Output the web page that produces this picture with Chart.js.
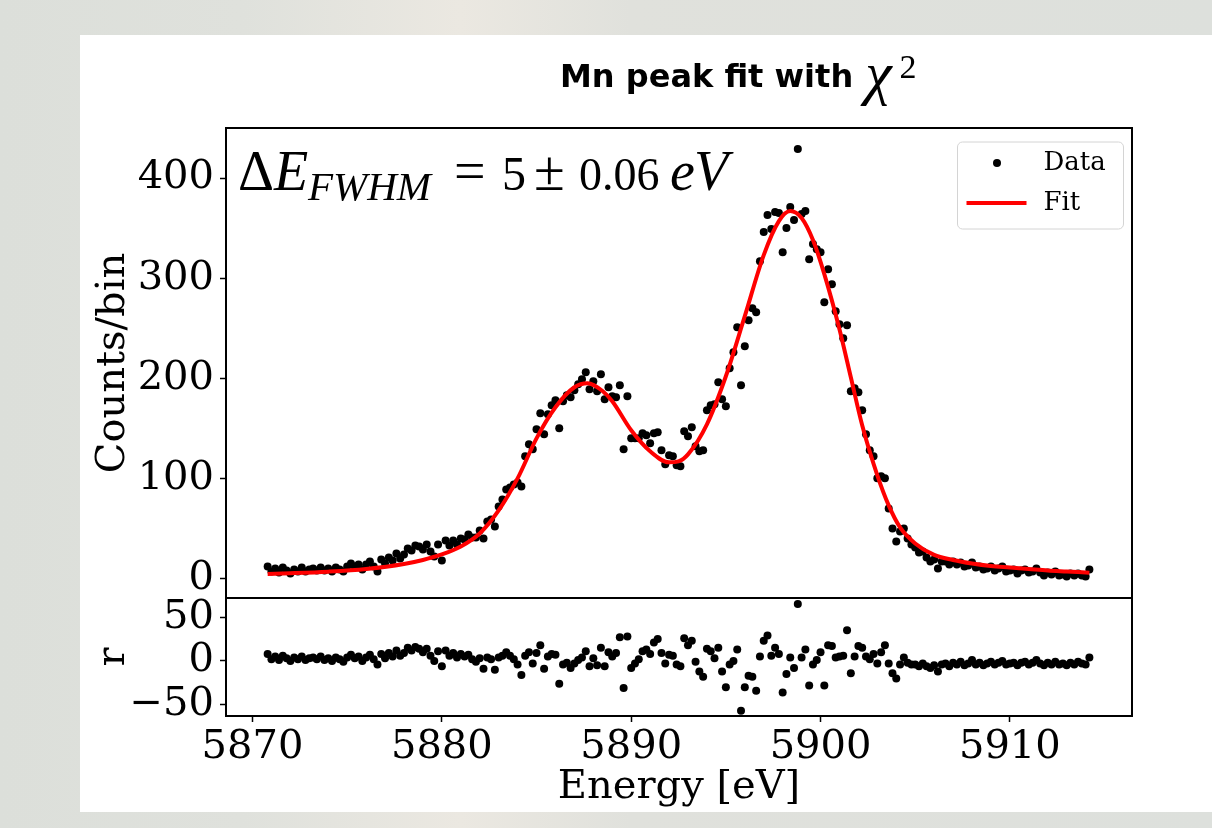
<!DOCTYPE html>
<html>
<head>
<meta charset="utf-8">
<title>Mn peak fit</title>
<script src="https://cdn.jsdelivr.net/npm/chart.js@4.4.0/dist/chart.umd.min.js"></script>
<style>
  html, body { margin: 0; padding: 0; }
  body {
    width: 1212px; height: 828px; overflow: hidden; position: relative;
    background: linear-gradient(90deg, #dcdfda 0%, #dfe1dc 20%, #ebe8e1 38%, #e0e1dc 52%, #dde0dc 100%);
  }
  #panel { position: absolute; left: 80px; top: 35px; width: 1132px; height: 777px; background: #fff; }
  #mainChart { position: absolute; left: 80px; top: 35px; }
  #resChart { position: absolute; left: 80px; top: 568px; }
</style>
</head>
<body>
<div id="panel"></div>
<canvas id="mainChart" width="1132" height="593"></canvas>
<canvas id="resChart" width="1132" height="244"></canvas>
<script>
const energies = [
  5870.8,
  5871.0, 5871.2, 5871.4, 5871.6, 5871.8,
  5872.0, 5872.2, 5872.4, 5872.6, 5872.8,
  5873.0, 5873.2, 5873.4, 5873.6, 5873.8,
  5874.0, 5874.2, 5874.4, 5874.6, 5874.8,
  5875.0, 5875.2, 5875.4, 5875.6, 5875.8,
  5876.0, 5876.2, 5876.4, 5876.6, 5876.8,
  5877.0, 5877.2, 5877.4, 5877.6, 5877.8,
  5878.0, 5878.2, 5878.4, 5878.6, 5878.8,
  5879.0, 5879.2, 5879.4, 5879.6, 5879.8,
  5880.0, 5880.2, 5880.4, 5880.6, 5880.8,
  5881.0, 5881.2, 5881.4, 5881.6, 5881.8,
  5882.0, 5882.2, 5882.4, 5882.6, 5882.8,
  5883.0, 5883.2, 5883.4, 5883.6, 5883.8,
  5884.0, 5884.2, 5884.4, 5884.6, 5884.8,
  5885.0, 5885.2, 5885.4, 5885.6, 5885.8,
  5886.0, 5886.2, 5886.4, 5886.6, 5886.8,
  5887.0, 5887.2, 5887.4, 5887.6, 5887.8,
  5888.0, 5888.2, 5888.4, 5888.6, 5888.8,
  5889.0, 5889.2, 5889.4, 5889.6, 5889.8,
  5890.0, 5890.2, 5890.4, 5890.6, 5890.8,
  5891.0, 5891.2, 5891.4, 5891.6, 5891.8,
  5892.0, 5892.2, 5892.4, 5892.6, 5892.8,
  5893.0, 5893.2, 5893.4, 5893.6, 5893.8,
  5894.0, 5894.2, 5894.4, 5894.6, 5894.8,
  5895.0, 5895.2, 5895.4, 5895.6, 5895.8,
  5896.0, 5896.2, 5896.4, 5896.6, 5896.8,
  5897.0, 5897.2, 5897.4, 5897.6, 5897.8,
  5898.0, 5898.2, 5898.4, 5898.6, 5898.8,
  5899.0, 5899.2, 5899.4, 5899.6, 5899.8,
  5900.0, 5900.2, 5900.4, 5900.6, 5900.8,
  5901.0, 5901.2, 5901.4, 5901.6, 5901.8,
  5902.0, 5902.2, 5902.4, 5902.6, 5902.8,
  5903.0, 5903.2, 5903.4, 5903.6, 5903.8,
  5904.0, 5904.2, 5904.4, 5904.6, 5904.8,
  5905.0, 5905.2, 5905.4, 5905.6, 5905.8,
  5906.0, 5906.2, 5906.4, 5906.6, 5906.8,
  5907.0, 5907.2, 5907.4, 5907.6, 5907.8,
  5908.0, 5908.2, 5908.4, 5908.6, 5908.8,
  5909.0, 5909.2, 5909.4, 5909.6, 5909.8,
  5910.0, 5910.2, 5910.4, 5910.6, 5910.8,
  5911.0, 5911.2, 5911.4, 5911.6, 5911.8,
  5912.0, 5912.2, 5912.4, 5912.6, 5912.8,
  5913.0, 5913.2, 5913.4, 5913.6, 5913.8,
  5914.0, 5914.2
];

const counts = [
  12,
  7, 10, 6, 11, 8,
  5, 9, 7, 11, 7,
  9, 10, 8, 11, 8,
  10, 7, 11, 9, 7,
  12, 15, 12, 14, 9,
  14, 17, 12, 7, 19,
  15, 21, 18, 25, 20,
  24, 30, 28, 33, 32,
  29, 34, 27, 22, 34,
  18, 38, 33, 38, 34,
  40, 39, 44, 41, 41,
  48, 40, 57, 59, 52,
  72, 79, 89, 91, 94,
  96, 92, 122, 134, 129,
  149, 165, 144, 164, 173,
  178, 150, 177, 183, 181,
  188, 194, 199, 206, 189,
  197, 187, 204, 179, 191,
  182, 181, 193, 129, 182,
  140, 140, 140, 145, 143,
  135, 145, 146, 128, 114,
  123, 122, 113, 112, 147,
  142, 151, 132, 127, 128,
  168, 173, 174, 196, 179,
  172, 210, 226, 251, 193,
  232, 258, 270, 266, 317,
  346, 363, 349, 366, 365,
  326, 350, 371, 358, 429,
  364, 367, 319, 334, 329,
  326, 276, 309, 294, 267,
  254, 240, 253, 187, 190,
  186, 168, 144, 128, 122,
  100, 102, 100, 70, 50,
  37, 47, 50, 40, 34,
  31, 26, 27, 21, 17,
  19, 10, 17, 17, 14,
  17, 14, 16, 12, 13,
  16, 11, 12, 9, 10,
  12, 8, 10, 12, 7,
  8, 9, 5, 8, 9,
  6, 7, 10, 6, 3,
  6, 4, 7, 3, 4,
  2, 5, 3, 5, 3,
  2, 9
];

const residuals = [
  8,
  2, 5, 1, 6, 3,
  0, 4, 2, 5, 1,
  3, 4, 2, 5, 1,
  3, 0, 4, 2, -1,
  4, 7, 3, 5, 0,
  4, 7, 2, -4, 8,
  3, 9, 5, 12, 6,
  9, 15, 12, 16, 14,
  10, 14, 6, 0, 11,
  -6, 12, 6, 9, 4,
  8, 5, 7, 2, -1,
  3, -9, 4, 2, -10,
  4, 6, 10, 6, 2,
  -4, -16, 6, 10, -3,
  9, 18, -9, 5, 8,
  7, -26, -4, -2, -8,
  -3, 1, 4, 11, -6,
  3, -5, 15, -6, 10,
  5, 9, 27, -31, 28,
  -8, -3, 2, 11, 13,
  8, 21, 25, 9, -3,
  7, 6, -4, -6, 26,
  18, 23, -1, -12, -18,
  14, 11, 3, 15, -12,
  -30, -4, 0, 13, -57,
  -30, -17, -18, -34, 5,
  23, 29, 6, 15, 8,
  -36, -15, 4, -8, 65,
  4, 13, -28, -4, 1,
  10, -28, 18, 17, 4,
  5, 6, 35, -14, 5,
  17, 15, 5, 2, 8,
  -3, 10, 18, -3, -14,
  -20, -4, 4, -2, -4,
  -4, -6, -3, -6, -8,
  -5, -12, -4, -3, -6,
  -2, -4, -1, -5, -3,
  1, -4, -2, -5, -3,
  -1, -4, -2, 0, -4,
  -3, -2, -5, -2, -1,
  -4, -2, 1, -3, -5,
  -2, -4, -1, -4, -3,
  -5, -2, -4, -1, -3,
  -4, 4
];

// fitted model curve, sampled off the red line
const fitEnergies = [5870.8, 5872, 5874, 5876, 5878, 5879, 5880, 5881, 5882, 5883, 5884, 5885, 5886,
  5887, 5887.7, 5888.5, 5889, 5890, 5891, 5892, 5892.5, 5893, 5894, 5895, 5896, 5897, 5897.8,
  5898.4, 5899, 5899.6, 5900.2, 5901, 5901.6, 5902.2, 5903, 5903.6, 5904.2, 5905, 5906, 5907,
  5908, 5909, 5910, 5911, 5912, 5913, 5914.2];
const fitCounts = [4.5, 5.2, 6.8, 9.5, 14.5, 18.5, 24, 32, 45, 68, 100, 140, 171,
  191, 195, 187, 177, 148, 127, 116, 117, 124, 154, 202, 262, 323, 357,
  367, 360, 338, 304, 249, 201, 153, 103, 73, 51, 35, 23.5, 18.5,
  15, 12.5, 11, 9.5, 8, 7, 5.8];

const energyTicks = [5870, 5880, 5890, 5900, 5910];
const countTicks = [0, 100, 200, 300, 400];
const residualTicks = [-50, 0, 50];

const serif = "'DejaVu Serif', serif";
const axisFont = { family: serif, size: 40 };

const framePlugin = {
  id: "frame",
  afterDraw(chart) {
    const { ctx, chartArea: a } = chart;
    ctx.save();
    ctx.strokeStyle = "#000";
    ctx.lineWidth = 2;
    ctx.strokeRect(a.left, a.top, a.right - a.left, a.bottom - a.top);
    ctx.restore();
  }
};

// title, ΔE annotation and the boxed legend
const headerPlugin = {
  id: "header",
  afterDraw(chart) {
    const { ctx, chartArea: a } = chart;
    ctx.save();
    ctx.fillStyle = "#000";
    ctx.textBaseline = "alphabetic";
    ctx.textAlign = "left";

    // title
    ctx.font = "bold 32px 'DejaVu Sans'";
    const t1 = "Mn peak fit with";
    ctx.fillText(t1, 480, 52);
    const w1 = ctx.measureText(t1).width;
    ctx.font = "italic 60px 'Liberation Serif'";
    const chiX = 480 + w1 + 12;
    ctx.fillText("χ", chiX, 58);
    const w2 = ctx.measureText("χ").width;
    ctx.font = "34px 'Liberation Serif'";
    ctx.fillText("2", chiX + w2 + 8, 43);

    // annotation, x positions relative to the axes' left edge
    const base = a.top + 62;
    const pieces = [
      ["Δ", 12, 56, false, 0],
      ["E", 48, 56, true, 0],
      ["FWHM", 82, 41, true, 10],
      ["=", 228, 56, false, 0],
      ["5", 276, 48, false, 0],
      ["±", 308, 56, false, 0],
      ["0.06", 353, 46, false, 0],
      ["e", 444, 56, true, 0],
      ["V", 468, 56, true, 0]
    ];
    pieces.forEach(([txt, dx, size, ital, dy]) => {
      ctx.font = (ital ? "italic " : "") + size + "px 'Liberation Serif'";
      ctx.fillText(txt, a.left + dx, base + dy);
    });

    // legend
    const w = 166, h = 87;
    const x = a.right - 8.5 - w, y = a.top + 14;
    ctx.beginPath();
    ctx.roundRect(x, y, w, h, 5);
    ctx.fillStyle = "rgba(255,255,255,0.8)";
    ctx.fill();
    ctx.strokeStyle = "#d4d4d4";
    ctx.lineWidth = 1;
    ctx.stroke();
    ctx.fillStyle = "#000";
    ctx.beginPath();
    ctx.arc(x + 39.5, y + 21, 4, 0, Math.PI * 2);
    ctx.fill();
    ctx.strokeStyle = "#ff0000";
    ctx.lineWidth = 4;
    ctx.beginPath();
    ctx.moveTo(x + 9, y + 61);
    ctx.lineTo(x + 69, y + 61);
    ctx.stroke();
    ctx.fillStyle = "#000";
    ctx.font = "26px 'DejaVu Serif'";
    ctx.textBaseline = "middle";
    ctx.fillText("Data", x + 86, y + 21);
    ctx.fillText("Fit", x + 86, y + 61);
    ctx.restore();
  }
};

const yAxisBase = {
  grid: { drawOnChartArea: false, drawTicks: true, tickLength: 6, tickWidth: 1.5, tickColor: "#000" },
  border: { display: true, color: "#000", width: 2 },
  ticks: { font: axisFont, color: "#000", padding: 6 },
  afterFit(s) { s.width = 146; }
};

new Chart(document.getElementById("mainChart"), {
  type: "scatter",
  data: {
    datasets: [
      {
        label: "Data",
        data: energies.map((e, i) => ({ x: e, y: counts[i] })),
        pointRadius: 4,
        pointBackgroundColor: "#000",
        pointBorderWidth: 0,
        showLine: false,
        order: 1
      },
      {
        label: "Fit",
        type: "line",
        data: fitEnergies.map((e, i) => ({ x: e, y: fitCounts[i] })),
        borderColor: "#ff0000",
        borderWidth: 4,
        pointRadius: 0,
        cubicInterpolationMode: "monotone",
        fill: false,
        order: 0
      }
    ]
  },
  options: {
    responsive: false,
    animation: false,
    layout: { padding: { left: 0, right: 80, top: 93, bottom: 30 } },
    plugins: { legend: { display: false }, tooltip: { enabled: false } },
    scales: {
      x: { type: "linear", min: 5868.6, max: 5916.45, display: false },
      y: {
        ...yAxisBase,
        min: -19.5,
        max: 450,
        afterBuildTicks(s) { s.ticks = countTicks.map(v => ({ value: v })); },
        title: { display: true, text: "Counts/bin", font: axisFont, color: "#000", padding: { top: 10, bottom: 0 } }
      }
    }
  },
  plugins: [framePlugin, headerPlugin]
});

new Chart(document.getElementById("resChart"), {
  type: "scatter",
  data: {
    datasets: [{
      label: "r",
      data: energies.map((e, i) => ({ x: e, y: residuals[i] })),
      pointRadius: 4,
      pointBackgroundColor: "#000",
      pointBorderWidth: 0
    }]
  },
  options: {
    responsive: false,
    animation: false,
    layout: { padding: { left: 0, right: 80, top: 30, bottom: 0 } },
    plugins: { legend: { display: false }, tooltip: { enabled: false } },
    scales: {
      x: {
        type: "linear",
        min: 5868.6,
        max: 5916.45,
        afterBuildTicks(s) { s.ticks = energyTicks.map(v => ({ value: v })); },
        afterFit(s) { s.height = 96; },
        grid: { drawOnChartArea: false, drawTicks: true, tickLength: 6, tickWidth: 1.5, tickColor: "#000" },
        border: { display: true, color: "#000", width: 2 },
        ticks: { font: axisFont, color: "#000", padding: 2, maxRotation: 0, callback: v => String(v) },
        title: { display: true, text: "Energy [eV]", font: axisFont, color: "#000", padding: { top: 0, bottom: 0 } }
      },
      y: {
        ...yAxisBase,
        min: -63,
        max: 72,
        afterBuildTicks(s) { s.ticks = residualTicks.map(v => ({ value: v })); },
        ticks: { ...yAxisBase.ticks, callback: v => (v < 0 ? "\u2212" + Math.abs(v) : String(v)) },
        title: { display: true, text: "r", font: axisFont, color: "#000", padding: { top: 10, bottom: 0 } }
      }
    }
  },
  plugins: [framePlugin]
});
</script>
</body>
</html>
